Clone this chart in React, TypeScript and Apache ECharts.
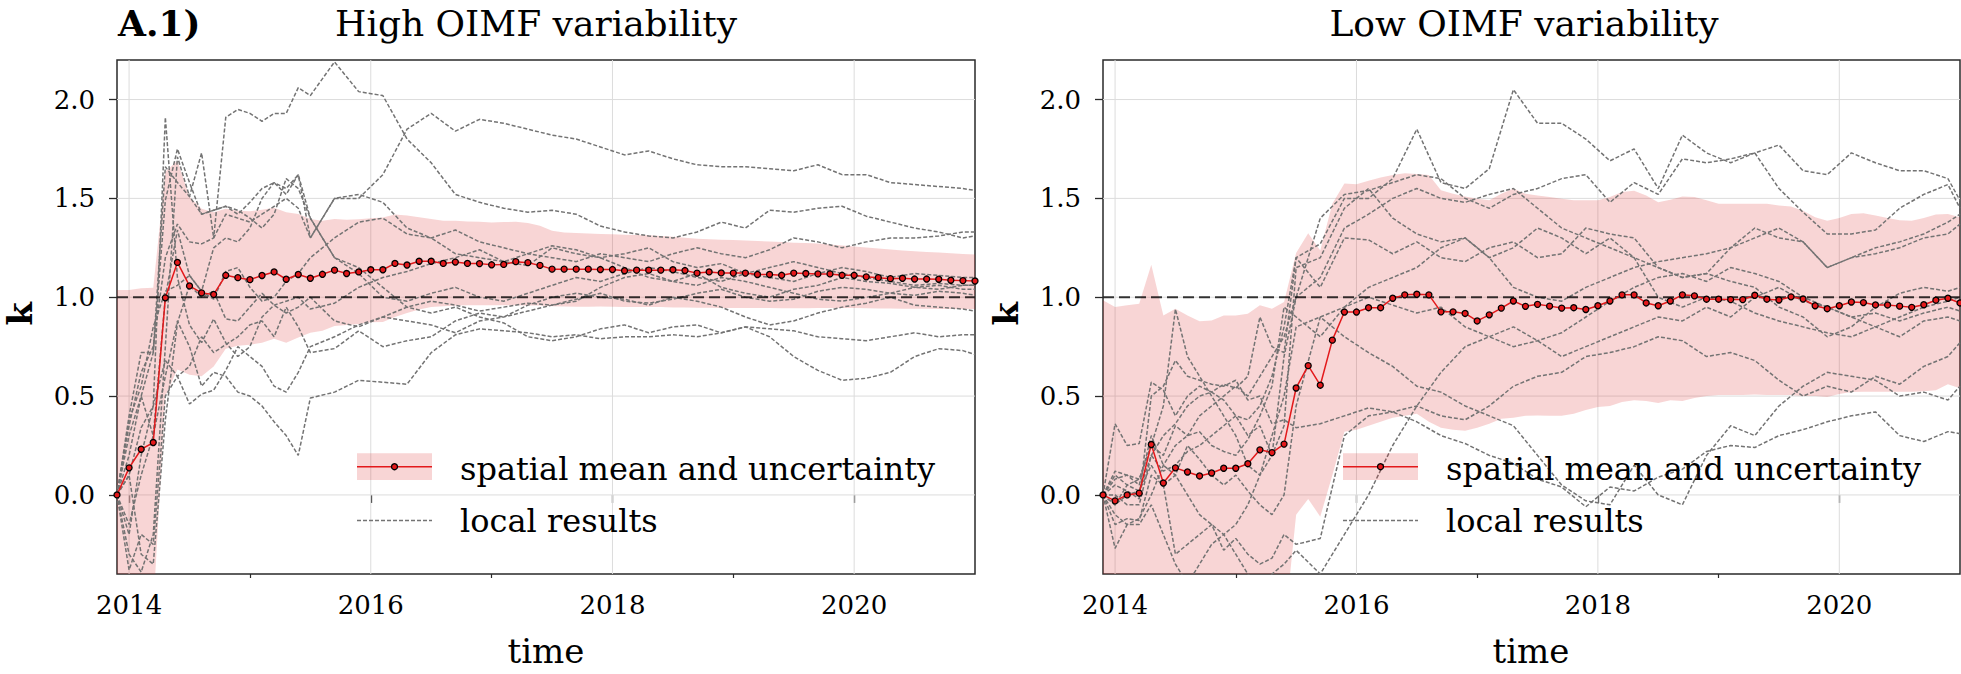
import React, { useEffect, useRef } from "react";
import * as echarts from "echarts";

// ---- time grids ----
// mean / band: one value every 0.1 year from 2013.9 to 2021.0
const TIME: number[] = Array.from({ length: 72 }, (_, i) => (20139 + i) / 10);
// local results sampled times
const LOCAL_T: number[] = [
  2013.9, 2014.0, 2014.1, 2014.2, 2014.3, 2014.4, 2014.5, 2014.6, 2014.7, 2014.8,
  2014.9, 2015.0, 2015.1, 2015.2, 2015.3, 2015.4, 2015.5, 2015.7, 2015.9, 2016.1,
  2016.3, 2016.5, 2016.7, 2016.9, 2017.1, 2017.3, 2017.5, 2017.7, 2017.9, 2018.1,
  2018.3, 2018.5, 2018.7, 2018.9, 2019.1, 2019.3, 2019.5, 2019.7, 2019.9, 2020.1,
  2020.3, 2020.5, 2020.7, 2020.9, 2021.0,
];

const X_MIN = 2013.9;
const X_MAX = 2021.0;
const Y_MIN = -0.4;
const Y_MAX = 2.2;
const X_MAJOR = [2014, 2016, 2018, 2020];
const X_MINOR = [2015, 2017, 2019];
const Y_MAJOR = [0, 0.5, 1, 1.5, 2];
const K_REF = 1.0;

const TITLES = ["High OIMF variability", "Low OIMF variability"];
const PANEL_TAG = "A.1)";
const X_NAME = "time";
const Y_NAME = "k";
const LEGEND_MEAN = "spatial mean and uncertainty";
const LEGEND_LOCAL = "local results";

// ---- High OIMF variability (left) ----
const MEAN_HIGH = [
  0.0, 0.137, 0.231, 0.265, 0.997, 1.176, 1.057, 1.022, 1.014, 1.111,
  1.099, 1.089, 1.110, 1.128, 1.091, 1.115, 1.096, 1.116, 1.137, 1.120,
  1.128, 1.139, 1.139, 1.171, 1.163, 1.182, 1.182, 1.171, 1.178, 1.171,
  1.170, 1.164, 1.166, 1.180, 1.175, 1.161, 1.142, 1.142, 1.142, 1.142,
  1.140, 1.140, 1.134, 1.137, 1.137, 1.137, 1.139, 1.135, 1.122, 1.128,
  1.123, 1.122, 1.122, 1.115, 1.115, 1.111, 1.122, 1.120, 1.118, 1.118,
  1.111, 1.111, 1.103, 1.099, 1.094, 1.096, 1.092, 1.092, 1.091, 1.086,
  1.084, 1.082,
];
const UPPER_HIGH = [
  1.036, 1.036, 1.045, 1.048, 1.635, 1.690, 1.507, 1.447, 1.430, 1.447,
  1.438, 1.435, 1.442, 1.452, 1.430, 1.421, 1.396, 1.387, 1.396, 1.392,
  1.395, 1.400, 1.403, 1.418, 1.413, 1.405, 1.396, 1.387, 1.387, 1.383,
  1.382, 1.378, 1.380, 1.382, 1.375, 1.361, 1.336, 1.327, 1.325, 1.322,
  1.320, 1.318, 1.316, 1.315, 1.313, 1.310, 1.306, 1.301, 1.296, 1.293,
  1.291, 1.289, 1.287, 1.284, 1.282, 1.279, 1.276, 1.274, 1.272, 1.267,
  1.262, 1.257, 1.252, 1.246, 1.241, 1.236, 1.233, 1.229, 1.226, 1.222,
  1.219, 1.216,
];
const LOWER_HIGH = [
  -0.9, -0.9, -0.8, -0.58, 0.50, 0.634, 0.608, 0.600, 0.650, 0.740,
  0.755, 0.760, 0.770, 0.790, 0.770, 0.796, 0.820, 0.830, 0.855, 0.860,
  0.865, 0.873, 0.875, 0.900, 0.920, 0.938, 0.950, 0.955, 0.958, 0.960,
  0.960, 0.960, 0.960, 0.960, 0.958, 0.958, 0.955, 0.953, 0.952, 0.952,
  0.953, 0.952, 0.951, 0.950, 0.950, 0.950, 0.948, 0.948, 0.947, 0.947,
  0.946, 0.946, 0.946, 0.945, 0.945, 0.944, 0.944, 0.944, 0.945, 0.946,
  0.946, 0.945, 0.944, 0.943, 0.943, 0.942, 0.942, 0.942, 0.941, 0.941,
  0.940, 0.940,
];
const LOCAL_HIGH_1 = [0, 0.35, 0.62, 0.75, 1.20, 1.37, 1.28, 1.27, 1.30, 1.91, 1.95, 1.93, 1.89, 1.93, 1.93, 2.06, 2.02,
  2.19, 2.04, 2.02, 1.80, 1.68, 1.52, 1.48, 1.45, 1.43, 1.44, 1.42, 1.36, 1.33, 1.31, 1.30, 1.33, 1.38, 1.35, 1.44, 1.43, 1.45, 1.46, 1.41, 1.38, 1.35, 1.33, 1.30, 1.31];
const LOCAL_HIGH_2 = [0, 0.40, 0.72, 0.72, 1.66, 1.58, 1.51, 1.42, 1.44, 1.46, 1.42, 1.48, 1.55, 1.58, 1.52, 1.62, 1.30,
  1.50, 1.50, 1.62, 1.85, 1.93, 1.84, 1.90, 1.88, 1.85, 1.82, 1.80, 1.76, 1.72, 1.74, 1.70, 1.67, 1.66, 1.66, 1.65, 1.64, 1.67, 1.62, 1.62, 1.58, 1.57, 1.56, 1.55, 1.54];
const LOCAL_HIGH_3 = [0, -0.20, 0.20, 0.45, 1.91, 1.10, 0.86, 0.77, 0.89, 0.77, 0.70, 0.75, 0.90, 0.96, 0.98, 1.00, 0.94,
  0.97, 1.05, 1.10, 1.13, 1.17, 1.20, 1.24, 1.18, 1.16, 1.25, 1.22, 1.20, 1.15, 1.10, 1.08, 1.12, 1.05, 1.02, 1.00, 1.04, 1.06, 1.10, 1.08, 1.07, 1.05, 1.04, 1.06, 1.06];
const LOCAL_HIGH_4 = [0, 0.30, 0.50, 0.72, 1.49, 1.75, 1.58, 1.42, 1.44, 1.46, 1.44, 1.40, 1.35, 1.42, 1.60, 1.55, 1.40,
  1.20, 1.15, 1.05, 0.95, 0.92, 0.95, 0.90, 0.87, 0.80, 0.78, 0.80, 0.84, 0.86, 0.82, 0.85, 0.86, 0.82, 0.85, 0.84, 0.83, 0.80, 0.79, 0.78, 0.80, 0.82, 0.80, 0.81, 0.81];
const LOCAL_HIGH_5 = [0, -0.15, 0.10, 0.30, 0.60, 0.88, 0.75, 0.55, 0.62, 0.60, 0.52, 0.50, 0.45, 0.37, 0.30, 0.20, 0.49,
  0.52, 0.58, 0.57, 0.56, 0.72, 0.81, 0.84, 0.83, 0.82, 0.80, 0.81, 0.79, 0.80, 0.80, 0.81, 0.80, 0.82, 0.85, 0.80, 0.70, 0.63, 0.58, 0.59, 0.62, 0.70, 0.74, 0.73, 0.71];
const LOCAL_HIGH_6 = [0, 0.10, 0.34, 0.45, 0.68, 0.60, 0.65, 0.80, 0.72, 0.76, 0.80, 0.86, 0.88, 0.80, 0.95, 0.85, 0.72,
  0.74, 0.83, 0.75, 0.78, 0.80, 0.88, 0.92, 0.90, 0.96, 1.00, 1.02, 1.00, 0.99, 0.96, 1.00, 0.98, 0.95, 0.90, 0.86, 0.88, 0.92, 0.95, 0.97, 1.00, 0.96, 0.95, 0.94, 0.93];
const LOCAL_HIGH_7 = [0, 0.38, 0.55, 0.85, 1.03, 1.06, 1.11, 1.03, 0.99, 1.13, 1.15, 1.05, 0.98, 1.00, 1.08, 1.12, 1.20,
  1.30, 1.38, 1.40, 1.32, 1.30, 1.22, 1.20, 1.18, 1.22, 1.26, 1.24, 1.20, 1.22, 1.25, 1.18, 1.15, 1.17, 1.12, 1.10, 1.08, 1.12, 1.15, 1.13, 1.10, 1.12, 1.11, 1.10, 1.10];
const LOCAL_HIGH_8 = [0, -0.38, -0.20, -0.25, 0.50, 0.60, 0.46, 0.51, 0.53, 0.63, 0.75, 0.70, 0.65, 0.55, 0.52, 0.62, 0.75,
  0.80, 0.86, 0.90, 0.95, 0.98, 0.96, 0.93, 0.95, 0.97, 0.96, 0.99, 1.02, 0.98, 0.97, 0.99, 1.02, 1.04, 1.00, 0.98, 0.99, 1.03, 1.05, 1.04, 1.02, 1.01, 1.03, 1.02, 1.01];
const LOCAL_HIGH_9 = [0, 0.10, -0.30, -0.35, 0.38, 0.87, 1.06, 1.00, 1.03, 0.89, 0.88, 0.95, 1.02, 0.96, 0.92, 0.95, 1.00,
  0.88, 0.85, 0.90, 0.88, 0.86, 0.82, 0.88, 0.90, 0.93, 0.96, 0.98, 1.05, 1.10, 1.12, 1.08, 1.06, 1.10, 1.08, 1.05, 1.02, 0.99, 0.98, 1.00, 1.02, 1.05, 1.06, 1.04, 1.04];
const LOCAL_HIGH_10 = [0, 0.20, 0.50, 0.30, 1.00, 1.34, 1.11, 1.03, 1.25, 1.30, 1.28, 1.35, 1.50, 1.58, 1.55, 1.62, 1.40,
  1.20, 1.12, 1.00, 0.98, 1.02, 1.05, 1.00, 0.98, 1.02, 1.06, 1.10, 1.08, 1.12, 1.15, 1.13, 1.10, 1.08, 1.12, 1.15, 1.18, 1.15, 1.12, 1.10, 1.08, 1.06, 1.07, 1.06, 1.06];
const LOCAL_HIGH_11 = [0, -0.30, -0.39, -0.20, 0.75, 1.71, 1.51, 1.73, 1.30, 1.42, 1.40, 1.38, 1.42, 1.46, 1.50, 1.45, 1.30,
  1.50, 1.52, 1.48, 1.35, 1.30, 1.34, 1.28, 1.25, 1.22, 1.20, 1.18, 1.22, 1.20, 1.18, 1.22, 1.25, 1.22, 1.20, 1.24, 1.30, 1.28, 1.25, 1.28, 1.30, 1.30, 1.31, 1.33, 1.33];

// ---- Low OIMF variability (right) ----
const MEAN_LOW = [
  0.0, -0.03, 0.0, 0.009, 0.255, 0.06, 0.137, 0.116, 0.096, 0.111,
  0.135, 0.135, 0.158, 0.228, 0.214, 0.257, 0.541, 0.654, 0.555, 0.783,
  0.925, 0.925, 0.947, 0.947, 0.995, 1.012, 1.015, 1.012, 0.926, 0.926,
  0.918, 0.880, 0.911, 0.945, 0.981, 0.954, 0.964, 0.955, 0.945, 0.947,
  0.938, 0.957, 0.981, 1.012, 1.012, 0.971, 0.957, 0.981, 1.012, 1.007,
  0.990, 0.990, 0.988, 0.988, 1.010, 0.990, 0.986, 1.002, 0.991, 0.957,
  0.942, 0.957, 0.976, 0.973, 0.961, 0.961, 0.955, 0.949, 0.962, 0.985,
  0.995, 0.971,
];
const UPPER_LOW = [
  0.985, 0.950, 0.960, 0.967, 1.164, 0.908, 0.942, 0.908, 0.878, 0.882,
  0.908, 0.908, 0.916, 0.959, 0.942, 0.976, 1.224, 1.324, 1.236, 1.473,
  1.575, 1.572, 1.589, 1.606, 1.618, 1.627, 1.623, 1.618, 1.541, 1.524,
  1.510, 1.498, 1.490, 1.524, 1.550, 1.524, 1.515, 1.507, 1.498, 1.490,
  1.490, 1.490, 1.507, 1.532, 1.538, 1.515, 1.481, 1.493, 1.510, 1.507,
  1.490, 1.473, 1.473, 1.473, 1.473, 1.473, 1.464, 1.459, 1.438, 1.404,
  1.387, 1.401, 1.421, 1.425, 1.413, 1.401, 1.390, 1.387, 1.401, 1.418,
  1.421, 1.404,
];
const LOWER_LOW = [
  -1.0, -1.0, -1.0, -1.0, -1.0, -1.0, -1.0, -1.0, -1.0, -1.0,
  -1.0, -1.0, -1.0, -1.0, -1.0, -0.70, -0.10, -0.02, -0.11, 0.10,
  0.32, 0.33, 0.35, 0.37, 0.39, 0.40, 0.41, 0.37, 0.34, 0.33,
  0.325, 0.34, 0.36, 0.385, 0.39, 0.40, 0.402, 0.40, 0.40, 0.41,
  0.43, 0.445, 0.45, 0.47, 0.479, 0.475, 0.465, 0.479, 0.475, 0.49,
  0.50, 0.505, 0.505, 0.505, 0.508, 0.505, 0.505, 0.505, 0.50, 0.50,
  0.495, 0.51, 0.52, 0.522, 0.522, 0.522, 0.522, 0.522, 0.525, 0.53,
  0.56, 0.54,
];
const LOCAL_LOW_1 = [0, 0.10, 0.05, 0.02, 0.20, 0.12, 0.15, 0.22, 0.25, 0.30, 0.35, 0.40, 0.38, 0.45, 0.60, 0.85, 1.20,
  1.27, 1.50, 1.50, 1.60, 1.85, 1.58, 1.55, 1.65, 2.05, 1.88, 1.88, 1.80, 1.69, 1.75, 1.55, 1.82, 1.73, 1.68, 1.73, 1.77, 1.64, 1.62, 1.73, 1.68, 1.64, 1.64, 1.60, 1.49];
const LOCAL_LOW_2 = [0, -0.05, 0.05, 0.08, 0.25, 0.20, 0.35, 0.30, 0.40, 0.45, 0.50, 0.55, 0.50, 0.60, 0.70, 0.80, 1.00,
  1.40, 1.52, 1.54, 1.58, 1.62, 1.60, 1.50, 1.45, 1.52, 1.55, 1.60, 1.62, 1.48, 1.58, 1.52, 1.70, 1.68, 1.70, 1.73, 1.55, 1.43, 1.32, 1.32, 1.34, 1.45, 1.52, 1.57, 1.45];
const LOCAL_LOW_3 = [0, 0.36, 0.25, 0.26, 0.57, 0.53, 0.40, 0.50, 0.55, 0.52, 0.56, 0.54, 0.60, 0.90, 0.75, 0.72, 1.20,
  1.05, 1.30, 1.29, 1.22, 1.28, 1.20, 1.18, 1.25, 1.28, 1.20, 1.22, 1.35, 1.32, 1.30, 1.15, 1.10, 1.12, 1.25, 1.35, 1.30, 1.28, 1.15, 1.20, 1.22, 1.25, 1.30, 1.32, 1.37];
const LOCAL_LOW_4 = [0, 0.0, -0.05, -0.05, 0.20, 0.30, 0.36, 0.45, 0.50, 0.52, 0.48, 0.40, 0.30, 0.35, 0.20, 0.70, 1.00,
  1.10, 1.35, 1.42, 1.50, 1.55, 1.50, 1.48, 1.52, 1.55, 1.45, 1.35, 1.30, 1.25, 1.20, 1.15, 1.10, 1.12, 1.08, 1.05, 0.95, 0.90, 0.80, 0.85, 0.95, 1.02, 1.05, 1.03, 1.05];
const LOCAL_LOW_5 = [0, -0.10, -0.15, -0.12, 0.0, 0.15, 0.25, 0.30, 0.32, 0.25, 0.22, 0.20, 0.28, 0.40, 0.55, 0.95, 0.90,
  0.80, 0.95, 1.05, 1.10, 1.15, 1.25, 1.30, 1.20, 1.05, 1.00, 0.98, 1.05, 1.10, 1.15, 1.18, 1.20, 1.22, 1.25, 1.30, 1.35, 1.28, 1.15, 1.20, 1.25, 1.28, 1.32, 1.38, 1.42];
const LOCAL_LOW_6 = [0, 0.08, 0.10, 0.05, 0.30, 0.15, 0.10, 0.0, -0.10, -0.15, -0.20, -0.15, -0.05, 0.10, 0.30, 0.50, 0.85,
  0.90, 0.95, 1.00, 0.96, 0.92, 0.95, 0.85, 0.80, 0.75, 0.78, 0.82, 0.90, 0.98, 1.05, 1.10, 1.12, 1.08, 1.15, 1.12, 1.08, 1.00, 0.95, 0.90, 0.92, 0.88, 0.92, 0.95, 0.93];
const LOCAL_LOW_7 = [0, -0.15, -0.12, -0.13, 0.10, 0.05, -0.30, -0.25, -0.20, -0.15, -0.28, -0.22, -0.30, -0.35, -0.32, -0.20, -0.25,
  -0.22, 0.30, 0.40, 0.42, 0.45, 0.40, 0.38, 0.45, 0.55, 0.60, 0.62, 0.70, 0.72, 0.75, 0.80, 0.78, 0.70, 0.72, 0.68, 0.58, 0.50, 0.55, 0.52, 0.60, 0.56, 0.65, 0.70, 0.77];
const LOCAL_LOW_8 = [0, -0.05, 0.0, 0.02, 0.15, 0.05, 0.10, 0.25, 0.18, 0.10, 0.05, 0.10, 0.02, -0.05, -0.10, 0.00, 0.45,
  0.90, 0.80, 0.72, 0.65, 0.55, 0.52, 0.45, 0.40, 0.35, 0.20, 0.05, -0.03, -0.05, 0.15, 0.00, -0.05, 0.20, 0.35, 0.30, 0.45, 0.55, 0.62, 0.60, 0.58, 0.50, 0.52, 0.48, 0.55];
const LOCAL_LOW_9 = [0, -0.27, -0.15, -0.15, -0.05, -0.20, -0.35, -0.45, -0.35, -0.25, -0.20, -0.30, -0.40, -0.45, -0.40, -0.35, -0.28,
  -0.40, -0.20, 0.00, 0.25, 0.45, 0.62, 0.75, 0.80, 0.85, 0.78, 0.70, 0.75, 0.80, 0.85, 0.90, 0.88, 0.95, 0.90, 1.00, 1.05, 0.98, 0.95, 0.90, 0.85, 0.80, 0.88, 0.90, 0.88];
const LOCAL_LOW_10 = [0, 0.05, 0.02, -0.02, 0.50, 0.55, 0.68, 0.60, 0.58, 0.56, 0.55, 0.58, 0.48, 0.50, 0.36, 0.38, 0.34,
  0.36, 0.40, 0.44, 0.42, 0.37, 0.30, 0.26, 0.20, 0.16, 0.08, 0.04, -0.06, 0.04, 0.02, 0.09, 0.13, 0.22, 0.25, 0.24, 0.30, 0.33, 0.37, 0.40, 0.42, 0.30, 0.27, 0.32, 0.31];
const LOCAL_LOW_11 = [0, 0.12, 0.10, 0.08, 0.25, 0.45, 0.94, 0.70, 0.60, 0.50, 0.40, 0.30, 0.15, 0.10, 0.20, 0.35, 1.15,
  1.20, 1.45, 1.55, 1.40, 1.32, 1.28, 1.30, 1.20, 1.25, 1.35, 1.30, 1.22, 1.30, 1.20, 1.00, 0.95, 1.00, 0.98, 0.92, 0.88, 0.85, 0.82, 0.80, 0.85, 0.90, 0.95, 0.98, 1.00];

const LOCAL_HIGH = [LOCAL_HIGH_1, LOCAL_HIGH_2, LOCAL_HIGH_3, LOCAL_HIGH_4, LOCAL_HIGH_5, LOCAL_HIGH_6,
  LOCAL_HIGH_7, LOCAL_HIGH_8, LOCAL_HIGH_9, LOCAL_HIGH_10, LOCAL_HIGH_11];
const LOCAL_LOW = [LOCAL_LOW_1, LOCAL_LOW_2, LOCAL_LOW_3, LOCAL_LOW_4, LOCAL_LOW_5, LOCAL_LOW_6,
  LOCAL_LOW_7, LOCAL_LOW_8, LOCAL_LOW_9, LOCAL_LOW_10, LOCAL_LOW_11];

// ---- styles ----
const FONT = "DejaVu Serif";
const RED = "#e3191b";
const BAND = "rgba(222, 45, 45, 0.2)";
const LOCAL_GRAY = "#737373";
const GRID_GRAY = "#dcdcdc";
const SPINE = "#2a2a2a";

const GRIDS = [
  { left: 117, top: 60, width: 858, height: 514 },
  { left: 1103, top: 60, width: 857, height: 514 },
];

function panelSeries(gi: number, mean: number[], upper: number[], lower: number[], locals: number[][]) {
  const xi = gi * 2;
  const yi = gi;
  const out: any[] = [];
  // grid lines
  X_MAJOR.forEach((x) => {
    out.push({
      type: "line", xAxisIndex: xi, yAxisIndex: yi, silent: true, z: 0, symbol: "none",
      data: [[x, Y_MIN], [x, Y_MAX]],
      lineStyle: { color: GRID_GRAY, width: 1 },
    });
  });
  Y_MAJOR.forEach((y) => {
    out.push({
      type: "line", xAxisIndex: xi, yAxisIndex: yi, silent: true, z: 0, symbol: "none",
      data: [[X_MIN, y], [X_MAX, y]],
      lineStyle: { color: GRID_GRAY, width: 1 },
    });
  });
  // uncertainty band as one polygon through the axis scales
  out.push({
    type: "custom", xAxisIndex: xi, yAxisIndex: yi, silent: true, z: 1,
    data: TIME.map((t, i) => [t, upper[i], lower[i]]),
    encode: { x: 0, y: [1, 2] },
    renderItem: (params: any, api: any) => {
      if (params.dataIndex !== 0) return null;
      const pts: number[][] = [];
      for (let i = 0; i < TIME.length; i++) pts.push(api.coord([TIME[i], upper[i]]));
      for (let i = TIME.length - 1; i >= 0; i--) pts.push(api.coord([TIME[i], lower[i]]));
      const cs = params.coordSys;
      return {
        type: "polygon",
        shape: { points: pts },
        style: { fill: BAND },
        clipPath: { type: "rect", shape: { x: cs.x, y: cs.y, width: cs.width, height: cs.height } },
      };
    },
  });
  locals.forEach((vals) => {
    out.push({
      type: "line", xAxisIndex: xi, yAxisIndex: yi, silent: true, z: 2, symbol: "none",
      data: LOCAL_T.map((t, i) => [t, vals[i]]),
      lineStyle: { color: LOCAL_GRAY, width: 1.5, type: [4, 2] },
    });
  });
  out.push({
    type: "line", xAxisIndex: xi, yAxisIndex: yi, silent: true, z: 3, symbol: "none",
    data: [[X_MIN, K_REF], [X_MAX, K_REF]],
    lineStyle: { color: "rgba(0,0,0,0.78)", width: 1.9, type: [11, 5] },
  });
  out.push({
    type: "line", xAxisIndex: xi, yAxisIndex: yi, silent: true, z: 4,
    symbol: "circle", symbolSize: 6, showAllSymbol: true,
    data: TIME.map((t, i) => [t, mean[i]]),
    lineStyle: { color: RED, width: 1.5 },
    itemStyle: { color: RED, borderColor: "#000", borderWidth: 1.3 },
  });
  return out;
}

function legendGraphics(ox: number) {
  return [
    { type: "rect", shape: { x: ox + 240, y: 453.3, width: 75, height: 26.7 }, style: { fill: BAND }, z: 100 },
    { type: "line", shape: { x1: ox + 240, y1: 466.7, x2: ox + 315, y2: 466.7 }, style: { stroke: RED, lineWidth: 1.5 }, z: 101 },
    { type: "circle", shape: { cx: ox + 277.5, cy: 466.7, r: 3 }, style: { fill: RED, stroke: "#000", lineWidth: 1.3 }, z: 102 },
    {
      type: "text", x: ox + 343, y: 469, z: 102,
      style: { text: LEGEND_MEAN, font: `32px "${FONT}"`, fill: "#000", align: "left", verticalAlign: "middle", textAlign: "left", textVerticalAlign: "middle" },
    },
    { type: "line", shape: { x1: ox + 240, y1: 520.5, x2: ox + 315, y2: 520.5 }, style: { stroke: LOCAL_GRAY, lineWidth: 1.5, lineDash: [4, 2] }, z: 101 },
    {
      type: "text", x: ox + 343, y: 521, z: 102,
      style: { text: LEGEND_LOCAL, font: `32px "${FONT}"`, fill: "#000", align: "left", verticalAlign: "middle", textAlign: "left", textVerticalAlign: "middle" },
    },
  ];
}

function textEl(text: string, x: number, y: number, font: string, extra: any = {}) {
  return {
    type: "text", x, y, z: 110, ...extra,
    style: { text, font, fill: "#000", align: "center", verticalAlign: "middle", textAlign: "center", textVerticalAlign: "middle", ...(extra.style || {}) },
  };
}

export default function App() {
  const ref = useRef<HTMLDivElement | null>(null);
  useEffect(() => {
    if (!ref.current) return;
    const chart = echarts.init(ref.current, null, { renderer: "svg" });
    const xAxes: any[] = [];
    const yAxes: any[] = [];
    GRIDS.forEach((_, gi) => {
      xAxes.push({
        type: "value", gridIndex: gi, min: X_MIN, max: X_MAX,
        axisLine: { show: false }, splitLine: { show: false },
        axisTick: { show: true, customValues: X_MAJOR, length: 8, lineStyle: { color: SPINE, width: 1.3 } },
        axisLabel: {
          show: true, customValues: X_MAJOR, formatter: (v: number) => String(Math.round(v)),
          fontFamily: FONT, fontSize: 26, color: "#000", margin: 18,
        },
      });
      xAxes.push({
        type: "value", gridIndex: gi, min: X_MIN, max: X_MAX, position: "bottom",
        axisLine: { show: false }, splitLine: { show: false }, axisLabel: { show: false },
        axisTick: { show: true, customValues: X_MINOR, length: 4, lineStyle: { color: SPINE, width: 1.2 } },
      });
      yAxes.push({
        type: "value", gridIndex: gi, min: Y_MIN, max: Y_MAX,
        axisLine: { show: false }, splitLine: { show: false },
        axisTick: { show: true, customValues: Y_MAJOR, length: 8, lineStyle: { color: SPINE, width: 1.3 } },
        axisLabel: {
          show: true, customValues: Y_MAJOR, formatter: (v: number) => v.toFixed(1),
          fontFamily: FONT, fontSize: 26, color: "#000", margin: 22,
        },
      });
    });

    const graphic: any[] = [
      textEl(PANEL_TAG, 118, 23, `bold 36px "${FONT}"`, { style: { align: "left", textAlign: "left" } }),
      textEl(TITLES[0], 536, 23, `36px "${FONT}"`),
      textEl(TITLES[1], 1524, 23, `36px "${FONT}"`),
      textEl(Y_NAME, 20, 314, `bold 34px "${FONT}"`, { rotation: Math.PI / 2 }),
      textEl(Y_NAME, 1006, 314, `bold 34px "${FONT}"`, { rotation: Math.PI / 2 }),
      textEl(X_NAME, 546, 651, `34px "${FONT}"`),
      textEl(X_NAME, 1531, 651, `34px "${FONT}"`),
      ...legendGraphics(GRIDS[0].left),
      ...legendGraphics(GRIDS[1].left),
    ];

    chart.setOption({
      animation: false,
      backgroundColor: "#fff",
      textStyle: { fontFamily: FONT },
      grid: GRIDS.map((g) => ({ ...g, show: true, borderColor: SPINE, borderWidth: 1.5, backgroundColor: "transparent" })),
      xAxis: xAxes,
      yAxis: yAxes,
      series: [
        ...panelSeries(0, MEAN_HIGH, UPPER_HIGH, LOWER_HIGH, LOCAL_HIGH),
        ...panelSeries(1, MEAN_LOW, UPPER_LOW, LOWER_LOW, LOCAL_LOW),
      ],
      graphic,
    });
    return () => chart.dispose();
  }, []);
  return <div ref={ref} style={{ position: "absolute", left: 0, top: 0, width: 1961, height: 674 }} />;
}
